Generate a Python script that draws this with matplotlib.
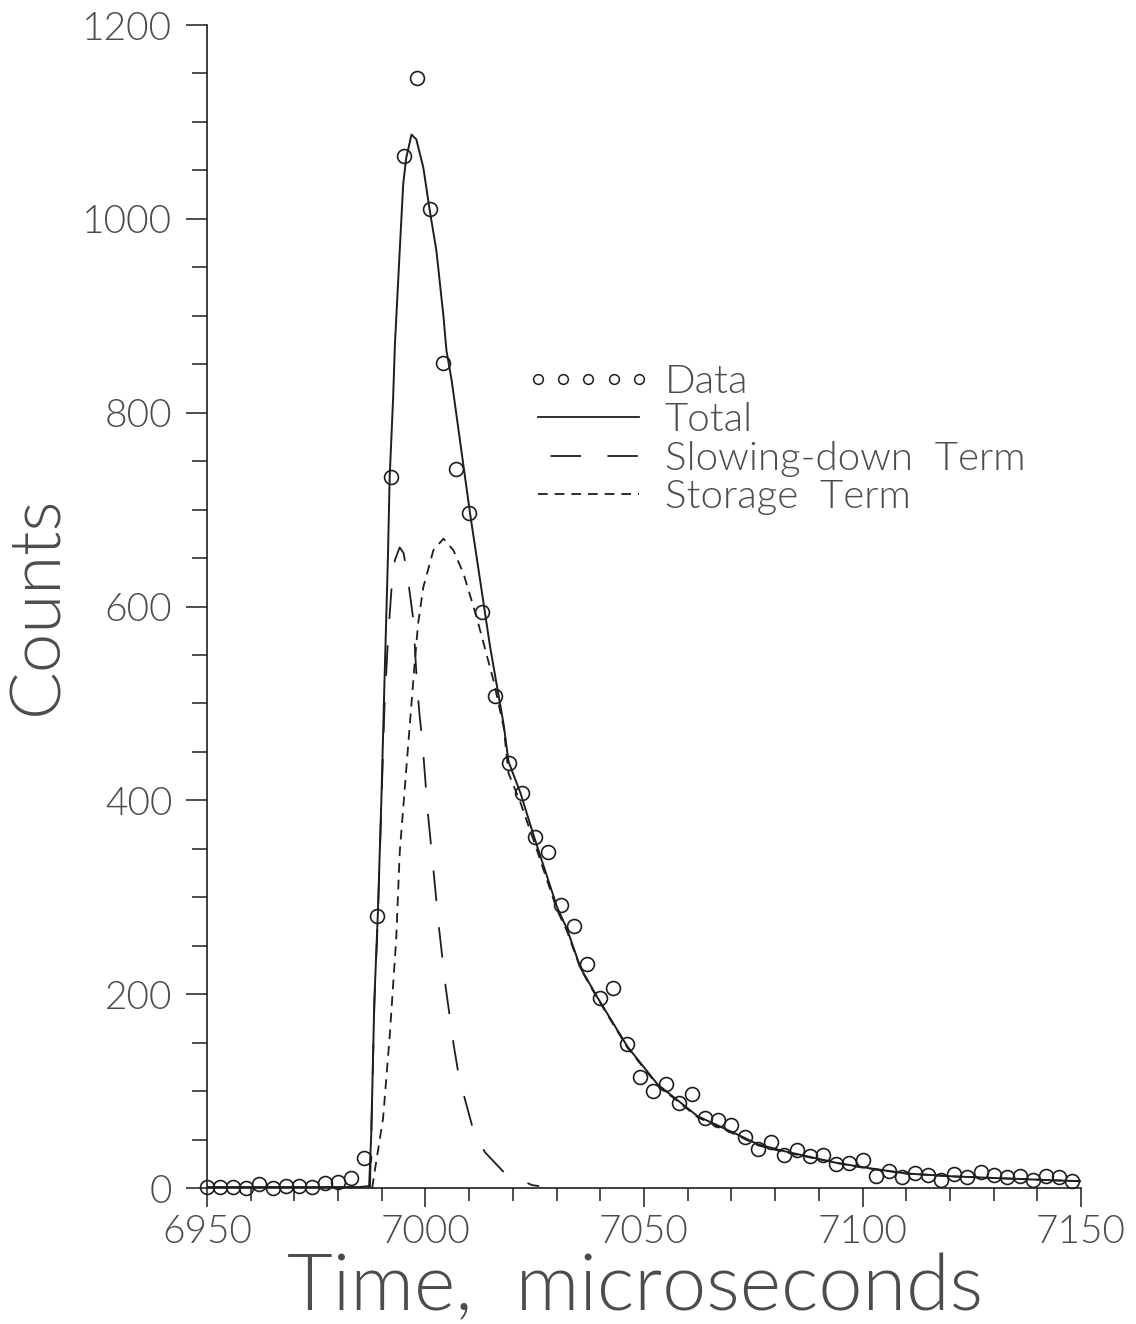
import numpy as np
import matplotlib
matplotlib.use('Agg')
import matplotlib.pyplot as plt
from matplotlib.lines import Line2D
from matplotlib.legend_handler import HandlerLine2D
from matplotlib.ticker import MultipleLocator

plt.rcParams['font.family'] = ['Lato', 'DejaVu Sans']
plt.rcParams['font.weight'] = 300
plt.rcParams['lines.scale_dashes'] = False

# measured counts, one every 3 microseconds
time_us = [6950, 6953, 6956, 6959, 6962, 6965, 6968, 6971, 6974, 6977,
           6980, 6983, 6986, 6989, 6992, 6995, 6998, 7001, 7004, 7007,
           7010, 7013, 7016, 7019, 7022, 7025, 7028, 7031, 7034, 7037,
           7040, 7043, 7046, 7049, 7052, 7055, 7058, 7061, 7064, 7067,
           7070, 7073, 7076, 7079, 7082, 7085, 7088, 7091, 7094, 7097,
           7100, 7103, 7106, 7109, 7112, 7115, 7118, 7121, 7124, 7127,
           7130, 7133, 7136, 7139, 7142, 7145, 7148]
counts = [1, 1, 1, 0, 4, 0, 2, 2, 1, 5,
          6, 10, 31, 281, 734, 1065, 1145, 1010, 851, 742,
          696, 594, 508, 439, 408, 362, 347, 292, 270, 231,
          196, 206, 149, 115, 100, 107, 88, 97, 72, 70,
          65, 53, 40, 48, 34, 39, 33, 34, 25, 26,
          29, 12, 18, 11, 15, 13, 8, 14, 11, 17,
          13, 11, 12, 8, 12, 11, 7]

# fitted total
total_t = [6950, 6985, 6987.1, 6987.6, 6988.3, 6989.1, 6989.9, 6990.6, 6991.4, 6991.8,
           6992.6, 6993.0, 6994.1, 6994.9, 6995.6, 6996.8, 6997.9, 6999.5, 7001.0, 7002.5,
           7004.1, 7004.8, 7006.0, 7008.3, 7010.2, 7012.5, 7014.8, 7017.9, 7019.0, 7021.7,
           7024.8, 7030.1, 7032.4, 7035.5, 7039.3, 7046.2, 7053.1, 7062.3, 7071.5, 7076.1,
           7082.1, 7094, 7100, 7110, 7120.7, 7132, 7143.6, 7150]
total_c = [1, 1, 2, 57, 194, 283, 400, 520, 650, 733,
           816, 870, 967, 1036, 1063, 1087, 1082, 1053, 1008, 967,
           900, 864, 833, 758, 696, 627, 558, 478, 440, 408,
           363, 290, 267, 227, 197, 146, 107, 74, 55, 45,
           38, 26, 21.5, 15, 12, 10, 8, 7]

# slowing-down term
slow_t = [6987.3, 6988.3, 6989.1, 6989.9, 6990.6, 6991.4, 6992.2, 6993.0, 6994.1, 6995.0,
          6995.9, 6997.2, 6998.0, 6998.6, 6999.3, 7000.5, 7001.8, 7003.1, 7004.6, 7006.4,
          7007.5, 7009.0, 7010.8, 7013.6, 7018.2, 7024.4, 7026]
slow_c = [0, 190, 280, 395, 495, 565, 617, 648, 661, 655,
          631, 587, 524, 490, 460, 389, 329, 268, 208, 149,
          119, 92, 62, 37, 15, 3, 2]

# storage term
stor_t = [6987.8, 6988.3, 6990.3, 6991.8, 6993.3, 6994.1, 6995.6, 6996.8, 6997.5, 6998.3,
          6999.5, 7001.8, 7004.1, 7006.4, 7008.7, 7011.7, 7015.6, 7017.9, 7019.0, 7021.7,
          7024.8, 7030.1, 7032.4, 7035.5, 7039.3, 7046.2, 7053.1, 7062.3, 7071.5, 7076.1,
          7082.1, 7094, 7100, 7110, 7120.7, 7132, 7143.6, 7150]
stor_c = [0, 15, 72, 156, 257, 346, 432, 500, 540, 582,
          620, 658, 670, 658, 634, 589, 523, 475, 428, 398,
          358, 287, 265, 226, 196, 145, 106, 73, 54, 44,
          37, 26, 21, 15, 12, 10, 8, 7]

ink = '#1e1e1e'
txt = '#4c4c4c'

fig = plt.figure(figsize=(11.36, 13.24), dpi=100)
ax = fig.add_axes([0.1822, 0.1027, 0.7694, 0.8784])

ax.plot(time_us, counts, 'o', ms=10, mfc='none', mec=ink, mew=1.2, clip_on=False)
ax.plot(total_t, total_c, '-', color=ink, lw=1.4)
ax.plot(slow_t, slow_c, color=ink, lw=1.3, dashes=(22, 19))
ax.plot(stor_t, stor_c, color=ink, lw=1.3, dashes=(7, 5))

ax.set_xlim(6950, 7150)
ax.set_ylim(0, 1200)
ax.spines['top'].set_visible(False)
ax.spines['right'].set_visible(False)
for s in ('left', 'bottom'):
    ax.spines[s].set_linewidth(1.2)
    ax.spines[s].set_color(ink)

ax.xaxis.set_major_locator(MultipleLocator(50))
ax.xaxis.set_minor_locator(MultipleLocator(10))
ax.yaxis.set_major_locator(MultipleLocator(200))
ax.yaxis.set_minor_locator(MultipleLocator(50))
ax.tick_params(axis='x', which='major', direction='out', length=14, width=1.1,
               color=ink, labelsize=28, labelcolor=txt, pad=5)
ax.tick_params(axis='x', which='minor', direction='out', length=9, width=1.1, color=ink)
ax.tick_params(axis='y', which='major', direction='out', length=15, width=1.1,
               color=ink, labelsize=28, labelcolor=txt, pad=10)
ax.tick_params(axis='y', which='minor', direction='out', length=11, width=1.1, color=ink)

fig.text(38 / 1136, 1 - 605 / 1324, 'Counts', rotation=90, ha='center', va='center',
         fontsize=51, color=txt)
fig.text(635 / 1136, 14 / 1324, 'Time,  microseconds', ha='center', va='baseline',
         fontsize=57, color=txt)

h_data = Line2D([], [], ls='none', marker='o', ms=7, mfc='none', mec=ink, mew=1.1)
h_total = Line2D([], [], color=ink, lw=1.3)
h_slow = Line2D([], [], color=ink, lw=1.3, ls=(32, (22, 19)))
h_stor = Line2D([], [], color=ink, lw=1.3, dashes=(7, 5))
leg = fig.legend([h_data, h_total, h_slow, h_stor],
                 ['Data', 'Total', 'Slowing-down  Term', 'Storage  Term'],
                 loc='upper left', bbox_to_anchor=(538 / 1136, 1 - 364 / 1324),
                 frameon=False, fontsize=29, borderpad=0, borderaxespad=0,
                 handlelength=2.5, handletextpad=0.65, labelspacing=0.06,
                 handler_map={h_data: HandlerLine2D(numpoints=5, marker_pad=0)})
for t in leg.get_texts():
    t.set_color(txt)

fig.savefig('out.png', dpi=100)
